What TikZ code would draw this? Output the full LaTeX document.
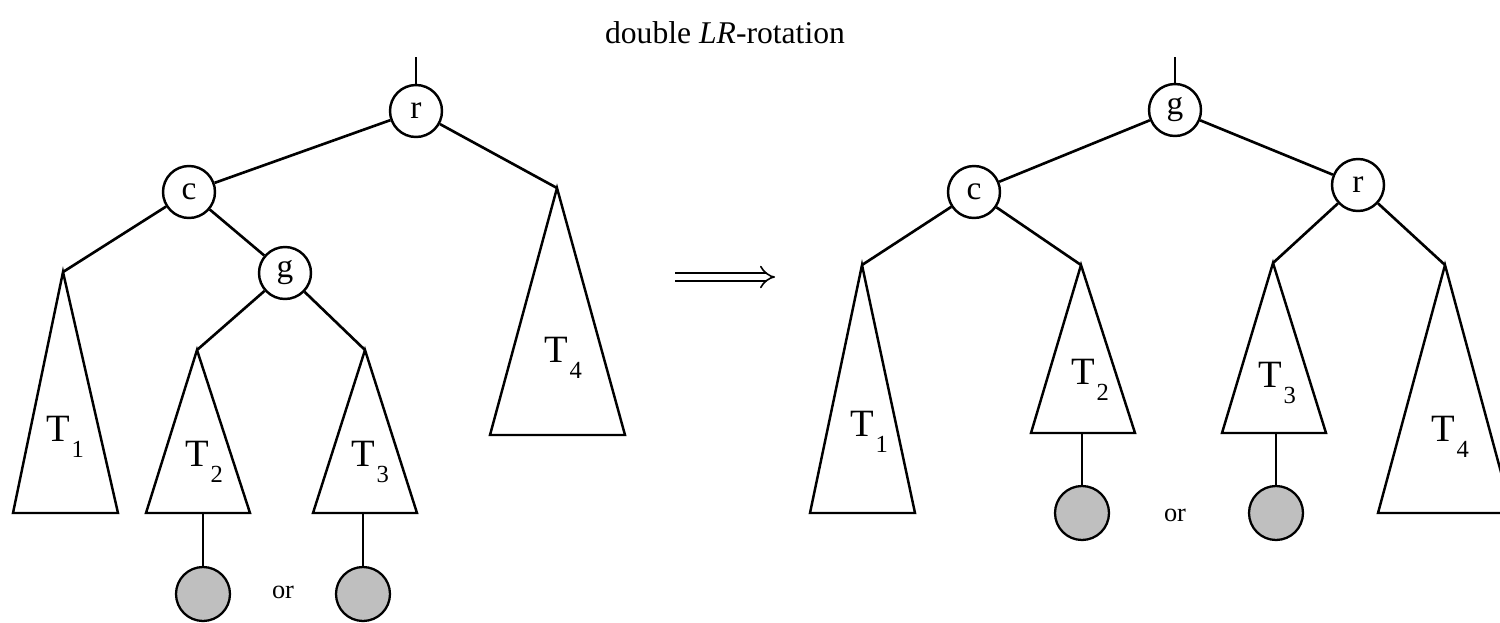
\documentclass[tikz,border=0pt]{standalone}
\usepackage{fontspec}
\setmainfont{Liberation Serif}
\usetikzlibrary{arrows.meta}
\newcommand{\tsub}[1]{T\kern1pt\raisebox{-0.4em}{\fontsize{14}{14}\selectfont #1}}
\begin{document}
\begin{tikzpicture}[x=0.02cm,y=-0.02cm,
 key/.style={circle,draw,line width=1.4pt,fill=white,minimum size=1.04cm,inner sep=0pt,font=\fontsize{19}{19}\selectfont},
 leaf/.style={circle,draw,line width=1.3pt,fill=black!25,minimum size=1.08cm,inner sep=0pt},
 edge/.style={line width=1.5pt},
 sub/.style={line width=1.4pt,line join=miter},
 lab/.style={inner sep=0pt,font=\fontsize{22}{22}\selectfont},
 stem/.style={line width=0.9pt}]
\useasboundingbox (0,0) rectangle (1500,622);
\clip (0,0) rectangle (1500,622);
\node[font=\fontsize{18}{18}\selectfont] (title) at (725,33) {double \textit{LR}-rotation};

% before the rotation
\node[key] (r) at (416,111) {r};
\node[key] (c) at (189,192) {c};
\node[key] (g) at (285,273) {g};
\coordinate (top) at (416,57);
\coordinate (a1) at (63,272);\coordinate (a2) at (197,350);
\coordinate (a3) at (365,350);\coordinate (a4) at (557,188);
\draw[sub] (a1)--(13,513)--(118,513)--cycle;
\draw[sub] (a2)--(146,513)--(250,513)--cycle;
\draw[sub] (a3)--(313,513)--(417,513)--cycle;
\draw[sub] (a4)--(490,435)--(625,435)--cycle;
\node[lab] (l1) at (65,437) {\tsub{1}};
\node[lab] (l2) at (204,462) {\tsub{2}};
\node[lab] (l3) at (370,462) {\tsub{3}};
\node[lab] (l4) at (563,358) {\tsub{4}};
\draw[edge] (top)--(r);\draw[edge] (r)--(c);\draw[edge] (r)--(a4);
\draw[edge] (c)--(a1);\draw[edge] (c)--(g);
\draw[edge] (g)--(a2);\draw[edge] (g)--(a3);
\coordinate (b2) at (203,513);\coordinate (b3) at (363,513);
\node[leaf] (n2) at (203,594) {};
\node[leaf] (n3) at (363,594) {};
\node[font=\fontsize{15}{15}\selectfont] (or1) at (283,592) {or};
\draw[stem] (b2)--(n2);\draw[stem] (b3)--(n3);

% the arrow
\coordinate (p) at (675,277);\coordinate (q) at (775,277);
\draw[double,double distance=3.6pt,line width=0.9pt,-{Implies}] (p)--(q);

% after the rotation
\node[key] (g') at (1175,110) {g};
\node[key] (c') at (974,192) {c};
\node[key] (r') at (1358,185) {r};
\coordinate (top') at (1175,57);
\coordinate (a1') at (862,265);\coordinate (a2') at (1081,265);
\coordinate (a3') at (1273,263);\coordinate (a4') at (1445,265);
\draw[sub] (a1')--(810,513)--(915,513)--cycle;
\draw[sub] (a2')--(1031,433)--(1135,433)--cycle;
\draw[sub] (a3')--(1222,433)--(1326,433)--cycle;
\draw[sub] (a4')--(1378,513)--(1512,513)--cycle;
\node[lab] (l1') at (869,432) {\tsub{1}};
\node[lab] (l2') at (1090,380) {\tsub{2}};
\node[lab] (l3') at (1277,383) {\tsub{3}};
\node[lab] (l4') at (1450,437) {\tsub{4}};
\draw[edge] (top')--(g');\draw[edge] (g')--(c');\draw[edge] (g')--(r');
\draw[edge] (c')--(a1');\draw[edge] (c')--(a2');
\draw[edge] (r')--(a3');\draw[edge] (r')--(a4');
\coordinate (b2') at (1082,433);\coordinate (b3') at (1276,433);
\node[leaf] (n2') at (1082,513) {};
\node[leaf] (n3') at (1276,513) {};
\node[font=\fontsize{15}{15}\selectfont] (or2) at (1175,515) {or};
\draw[stem] (b2')--(n2');\draw[stem] (b3')--(n3');
\end{tikzpicture}
\end{document}
